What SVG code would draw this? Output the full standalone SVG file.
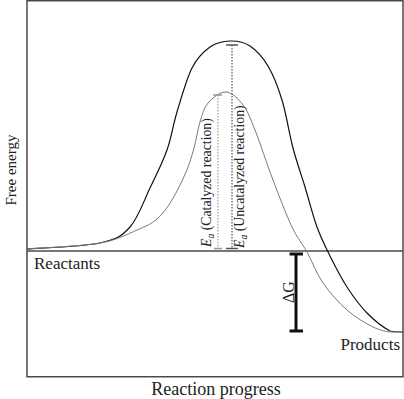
<svg xmlns="http://www.w3.org/2000/svg" width="404" height="399" viewBox="0 0 404 399">
<style>
text{font-family:"Liberation Serif","DejaVu Serif",serif;fill:#222}
.axis{fill:none;stroke:#4a4a4a;stroke-width:1.5}
.unc{fill:none;stroke:#111;stroke-width:1.2}
.cat{fill:none;stroke:#7a7a7a;stroke-width:1}
.dotU{stroke:#333;stroke-width:1;stroke-dasharray:1.5 1.5}
.dotC{stroke:#888;stroke-width:1;stroke-dasharray:1.5 1.5}
.capU{stroke:#555;stroke-width:1.5}
.capC{stroke:#999;stroke-width:1.5}
.bar{stroke:#111;stroke-width:3}
</style>
<rect width="404" height="399" fill="#fff"/>
<g id="frame">
<rect class="axis" x="27" y="0.75" width="376" height="376"/>
<line class="axis" x1="27" y1="251" x2="403" y2="251"/>
</g>
<g id="connectors">
<path id="uncatalyzed" class="unc" d="M27,249 C39.2,248 82.8,246.7 100,243 C117.2,239.3 121.7,236.2 130,227 C138.3,217.8 143.8,200.8 150,188 C156.2,175.2 162.5,162.7 167,150 C171.5,137.3 172.8,125.7 177,112 C181.2,98.3 186.5,78.8 192,68 C197.5,57.2 203.7,51.5 210,47 C216.3,42.5 223.3,41.2 230,41 C236.7,40.8 243.7,41.8 250,46 C256.3,50.2 262.7,57 268,66 C273.3,75 277.8,86.3 282,100 C286.2,113.7 289.2,133.5 293,148 C296.8,162.5 301,173.8 305,187 C309,200.2 312.8,215.5 317,227 C321.2,238.5 325,246 330,256 C335,266 340.8,277.5 347,287 C353.2,296.5 359.8,305.7 367,313 C374.2,320.3 384,327.8 390,331 C396,332.2 400,332 403,332"/>
<path id="catalyzed" class="cat" d="M27,249 C39.2,248 81.7,246.2 100,243 C118.3,239.8 127.5,234 137,230 C146.5,226 151.2,224 157,219 C162.8,214 167.2,207.8 172,200 C176.8,192.2 182.3,180.7 186,172 C189.7,163.3 191.7,156.3 194,148 C196.3,139.7 197.7,129.5 200,122 C202.3,114.5 203.7,108 208,103 C212.3,98 220.2,91.7 226,92 C231.8,92.3 238.2,98.7 243,105 C247.8,111.3 250,117.5 255,130 C260,142.5 266.8,163.8 273,180 C279.2,196.2 286.3,215 292,227 C297.7,239 301.8,242.7 307,252 C312.2,261.3 316.3,273.3 323,283 C329.7,292.7 338.7,302.7 347,310 C355.3,317.3 365.5,323.3 373,327 C380.5,330.7 388,332 392,332 L403,332"/>
</g>
<g id="ea-uncatalyzed">
<line class="dotU" x1="232" y1="45" x2="232" y2="248"/>
<line class="capU" x1="226" y1="45" x2="238" y2="45"/>
<line class="capU" x1="226" y1="248.5" x2="238" y2="248.5"/>
<text transform="translate(244,248) rotate(-90)" font-size="13.8"><tspan font-style="italic">E</tspan><tspan font-style="italic" font-size="9.5" dy="3">a</tspan><tspan dy="-3"> (Uncatalyzed reaction)</tspan></text>
</g>
<g id="ea-catalyzed">
<line class="dotC" x1="218" y1="95" x2="218" y2="248"/>
<line class="capC" x1="213" y1="95" x2="222" y2="95"/>
<line class="capC" x1="214" y1="248.5" x2="222" y2="248.5"/>
<text transform="translate(211,247) rotate(-90)" font-size="13.8"><tspan font-style="italic">E</tspan><tspan font-style="italic" font-size="9.5" dy="3">a</tspan><tspan dy="-3"> (Catalyzed reaction)</tspan></text>
</g>
<g id="delta-g">
<line class="bar" x1="296" y1="254" x2="296" y2="331"/>
<line class="bar" x1="289.5" y1="254" x2="303" y2="254"/>
<line class="bar" x1="289.5" y1="331" x2="303" y2="331"/>
<text transform="translate(294,292) rotate(-90)" font-size="16" text-anchor="middle">ΔG</text>
</g>
<g id="labels">
<text x="34" y="269" font-size="17">Reactants</text>
<text x="400" y="350" font-size="17" text-anchor="end">Products</text>
<text x="216" y="395" font-size="18" text-anchor="middle">Reaction progress</text>
<text transform="translate(16,170) rotate(-90)" font-size="15" text-anchor="middle">Free energy</text>
</g>
</svg>
